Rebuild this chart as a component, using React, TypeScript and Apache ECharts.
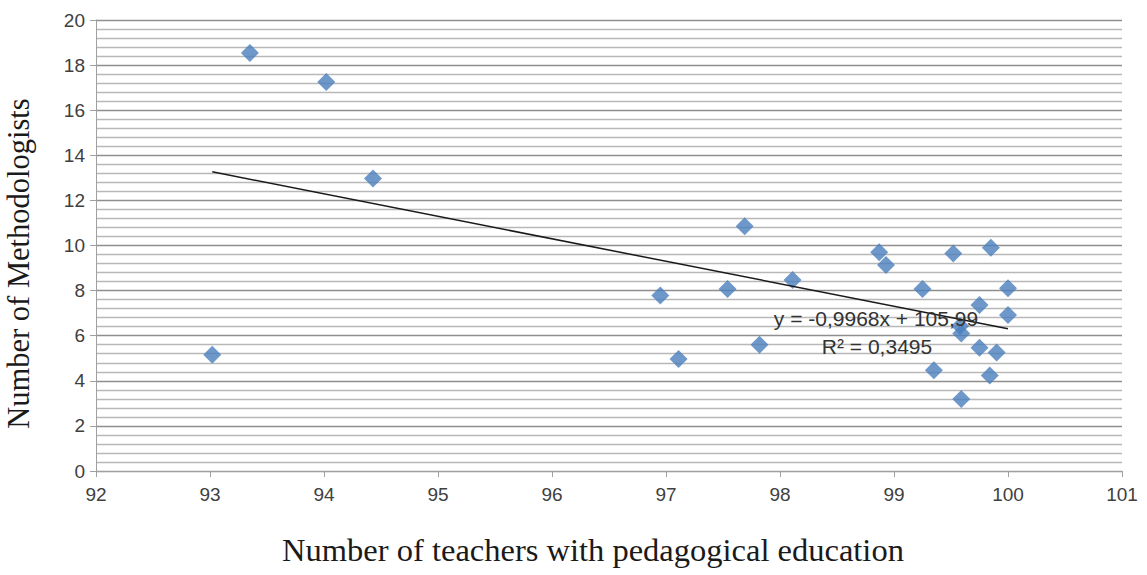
import React, { useEffect, useRef } from "react";
import * as echarts from "echarts";

const teachers: number[] = [
  93.02, 93.35, 94.02, 94.43, 96.95, 97.11, 97.54, 97.69, 97.82, 98.11,
  98.87, 98.93, 99.25, 99.35, 99.52, 99.85, 100.0, 99.75, 100.0, 99.58,
  99.59, 99.75, 99.9, 99.84, 99.59,
];
const methodologists: number[] = [
  5.15, 18.54, 17.25, 12.97, 7.78, 4.97, 8.07, 10.85, 5.6, 8.47,
  9.7, 9.14, 8.07, 4.47, 9.65, 9.9, 8.1, 7.36, 6.92, 6.43,
  6.1, 5.47, 5.26, 4.24, 3.19,
];
const trendSlope = -0.9968;
const trendIntercept = 105.99;
const equationText = "y = -0,9968x + 105,99";
const r2Text = "R² = 0,3495";
const xAxisName = "Number of teachers with pedagogical education";
const yAxisName = "Number of Methodologists";

export default function App() {
  const ref = useRef<HTMLDivElement>(null);
  useEffect(() => {
    document.body.style.margin = "0";
    if (!ref.current) return;
    const chart = echarts.init(ref.current, undefined, { renderer: "svg" });
    const points = teachers.map((x, i) => [x, methodologists[i]]);
    const xMin = Math.min(...teachers);
    const xMax = Math.max(...teachers);
    const trend = [
      [xMin, trendSlope * xMin + trendIntercept],
      [xMax, trendSlope * xMax + trendIntercept],
    ];
    chart.setOption({
      animation: false,
      backgroundColor: "#ffffff",
      grid: { left: 96, right: 25, top: 20, bottom: 104, outerBoundsMode: "none", containLabel: false },
      xAxis: {
        type: "value",
        min: 92,
        max: 101,
        interval: 1,
        name: xAxisName,
        nameLocation: "middle",
        nameGap: 62,
        nameTextStyle: {
          fontFamily: "Liberation Serif",
          fontSize: 32.5,
          color: "#1a1a1a",
          padding: [0, 32, 0, 0],
        },
        axisLine: { show: true, lineStyle: { color: "#a0a0a0", width: 1 } },
        axisTick: { show: true, inside: false, length: 6, lineStyle: { color: "#a0a0a0" } },
        axisLabel: { fontFamily: "Liberation Sans", fontSize: 19, color: "#404040", margin: 14 },
        splitLine: { show: false },
      },
      yAxis: {
        type: "value",
        min: 0,
        max: 20,
        interval: 2,
        name: yAxisName,
        nameLocation: "middle",
        nameGap: 62,
        nameRotate: 90,
        nameTextStyle: {
          fontFamily: "Liberation Serif",
          fontSize: 30.5,
          color: "#1a1a1a",
          padding: [0, 36, 0, 0],
        },
        axisLine: { show: true, lineStyle: { color: "#a0a0a0", width: 1 } },
        axisTick: { show: true, length: 6, lineStyle: { color: "#a0a0a0" } },
        axisLabel: { fontFamily: "Liberation Sans", fontSize: 19, color: "#404040", margin: 11 },
        splitLine: { show: true, lineStyle: { color: "#8f8f8f", width: 1.4 } },
        minorTick: { show: false, splitNumber: 5 },
        minorSplitLine: { show: true, lineStyle: { color: "#b8b8b8", width: 1.4 } },
      },
      series: [
        {
          type: "scatter",
          data: points,
          symbol: "diamond",
          symbolSize: 18,
          itemStyle: { color: "#4a7ebb" },
          z: 3,
        },
        {
          type: "line",
          data: trend,
          showSymbol: false,
          symbol: "none",
          lineStyle: { color: "#1a1a1a", width: 1.5 },
          z: 4,
        },
      ],
      graphic: [
        {
          type: "text",
          x: 876,
          y: 318,
          style: {
            text: equationText,
            font: "21px 'Liberation Sans'",
            fill: "#333333",
            textAlign: "center",
            textVerticalAlign: "middle",
          },
          z: 10,
        },
        {
          type: "text",
          x: 877,
          y: 346,
          style: {
            text: r2Text,
            font: "21px 'Liberation Sans'",
            fill: "#333333",
            textAlign: "center",
            textVerticalAlign: "middle",
          },
          z: 10,
        },
      ],
    });
    return () => chart.dispose();
  }, []);
  return <div ref={ref} style={{ width: 1147, height: 575 }} />;
}
